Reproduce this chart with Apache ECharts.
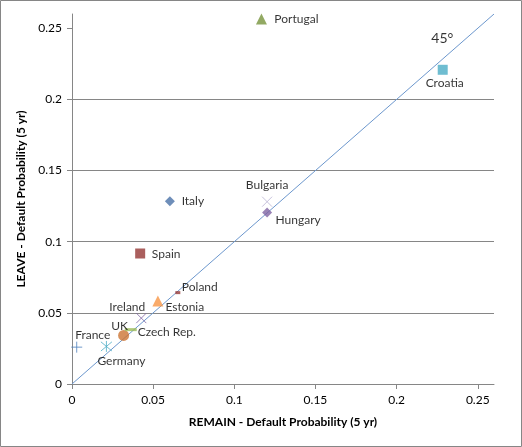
<!DOCTYPE html>
<html><head><meta charset="utf-8">
<script src="https://cdn.jsdelivr.net/npm/echarts@6/dist/echarts.min.js"></script>
<style>html,body{margin:0;padding:0;background:#fff}#c{width:522px;height:447px}</style>
</head><body><div id="c"></div>
<script>
const countries = ['Portugal','Croatia','Bulgaria','Hungary','Italy','Spain','Poland','Estonia','Ireland','UK','Czech Rep.','Germany','France'];
const remain = [0.1167, 0.2284, 0.1202, 0.1202, 0.0603, 0.0420, 0.0652, 0.0529, 0.0427, 0.0318, 0.0362, 0.0212, 0.0029];
const leave  = [0.2564, 0.2208, 0.1281, 0.1206, 0.1285, 0.0917, 0.0642, 0.0584, 0.0463, 0.0341, 0.0382, 0.0264, 0.0259];
const diagonal = [[0, 0], [0.26, 0.26]];
const xTicks = [0, 0.05, 0.1, 0.15, 0.2, 0.25];
const yTicks = [0, 0.05, 0.1, 0.15, 0.2, 0.25];
const angleNote = {text: '45°', x: 0.2282, y: 0.2426};

const FONT = 'Lato';
const X = 'path://M0 0L10 10M10 0L0 10';
const PLUS = 'path://M5 0L5 10M0 5L10 5';
const STAR = 'path://M0 0L10 10M10 0L0 10M5 -1L5 11';
const styles = [
  {symbol:'triangle', size:11, color:'#77933C', off:[35,0]},
  {symbol:'rect', size:10, color:'#4BACC6', off:[2,13]},
  {symbol:X, size:10, stroke:'#B9B3D3', off:[0,-17]},
  {symbol:'diamond', size:10, color:'#8064A2', off:[31,8]},
  {symbol:'diamond', size:10, color:'#4A72A8', off:[23,0]},
  {symbol:'rect', size:10, color:'#953735', off:[26,1]},
  {symbol:'rect', size:[5,3], color:'#953735', off:[22,-6]},
  {symbol:'triangle', size:11, color:'#F79646', off:[27,6]},
  {symbol:X, size:10, stroke:'#8064A2', off:[-14,-11]},
  {symbol:'circle', size:11, color:'#CC7433', off:[-4,-9]},
  {symbol:'rect', size:[12,3], color:'#9BBB59', off:[36,2]},
  {symbol:STAR, size:11, stroke:'#4BACC6', off:[15,15]},
  {symbol:PLUS, size:11, stroke:'#4F81BD', off:[16,-12]}
];

const series = [{
  type:'line', data: diagonal, symbol:'none', silent:true, z:1,
  lineStyle:{color:'#6C97CD', width:1}
}, {
  type:'scatter', data:[[angleNote.x, angleNote.y]], symbolSize:0, silent:true,
  label:{show:true, position:'inside', formatter: angleNote.text, color:'#000', fontSize:14, fontFamily:FONT}
}];
countries.forEach((name, i) => {
  const s = styles[i];
  const itemStyle = s.stroke ? {color:'rgba(0,0,0,0)', borderColor:s.stroke, borderWidth:1} : {color:s.color};
  series.push({
    type:'scatter', name, data:[[remain[i], leave[i]]], symbol:s.symbol, symbolSize:s.size,
    itemStyle, z:3,
    label:{show:true, position:'inside', offset:s.off, formatter:name, color:'#000', fontSize:12, fontFamily:FONT}
  });
});

const axisCommon = {
  type:'value', min:0, max:0.26, interval:0.05,
  axisLine:{show:true, lineStyle:{color:'#868686'}},
  axisTick:{show:true, inside:false, length:5, lineStyle:{color:'#868686'}},
  nameTextStyle:{fontFamily:FONT, fontWeight:'bold', fontSize:12, color:'#000'},
  nameLocation:'middle'
};
const chart = echarts.init(document.getElementById('c'), null, {renderer:'canvas'});
chart.setOption({
  animation:false,
  grid:{left:72, right:28, top:14, bottom:63, containLabel:false},
  xAxis: Object.assign({}, axisCommon, {
    name:'REMAIN - Default Probability (5 yr)', nameGap:32,
    axisTick:{show:true, length:5, customValues:xTicks, lineStyle:{color:'#868686'}},
    axisLabel:{customValues:xTicks, formatter:v=>String(v), margin:10, color:'#000', fontFamily:FONT, fontSize:12},
    splitLine:{show:false}
  }),
  yAxis: Object.assign({}, axisCommon, {
    name:'LEAVE - Default Probability (5 yr)', nameGap:41,
    axisTick:{show:true, length:5, customValues:yTicks, lineStyle:{color:'#868686'}},
    axisLabel:{customValues:yTicks, formatter:v=>String(v), margin:10, color:'#000', fontFamily:FONT, fontSize:12},
    splitLine:{show:true, showMaxLine:false, lineStyle:{color:'#868686'}}
  }),
  graphic:[{type:'rect', shape:{x:0.5, y:0.5, width:521, height:446}, style:{fill:null, stroke:'#868686', lineWidth:1}, silent:true}],
  series
});
</script></body></html>
